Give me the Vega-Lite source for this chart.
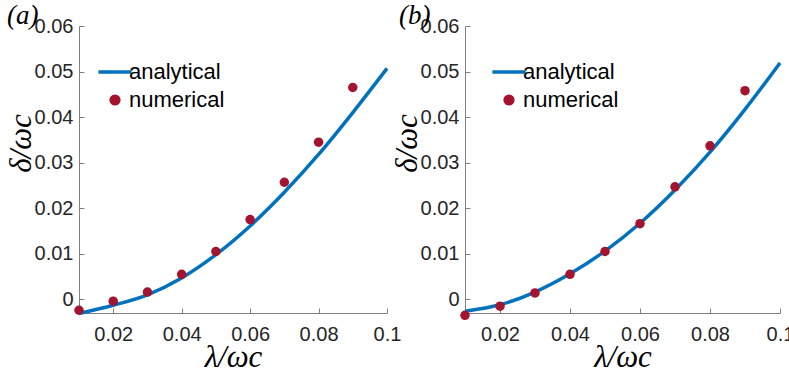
{
  "$schema": "https://vega.github.io/schema/vega-lite/v6.json",
  "padding": {"left": 5, "top": 2, "right": 0, "bottom": 0},
  "background": "white",
  "bounds": "flush",
  "spacing": 78,
  "config": {
    "view": {"stroke": null},
    "axis": {
      "labelFont": "Liberation Sans", "labelFontSize": 20, "labelColor": "#262626",
      "domainColor": "#808080", "tickColor": "#808080", "tickSize": -5, "grid": false,
      "titleFont": "Liberation Serif", "titleFontStyle": "italic", "titleFontWeight": "normal",
      "titleFontSize": 31, "titleColor": "#000000"
    },
    "title": {"font": "Liberation Serif", "fontStyle": "italic", "fontWeight": "normal", "fontSize": 27, "color": "#000000", "anchor": "start", "frame": "group"}
  },
  "datasets": {
    "curveA": [
      {"x": 0.01, "y": -0.0031}, {"x": 0.02, "y": -0.0013}, {"x": 0.03, "y": 0.0010},
      {"x": 0.04, "y": 0.0047}, {"x": 0.05, "y": 0.0098}, {"x": 0.06, "y": 0.0161},
      {"x": 0.07, "y": 0.0235}, {"x": 0.08, "y": 0.0318}, {"x": 0.09, "y": 0.0410},
      {"x": 0.1, "y": 0.0507}
    ],
    "ptsA": [
      {"x": 0.01, "y": -0.0024}, {"x": 0.02, "y": -0.0004}, {"x": 0.03, "y": 0.0016},
      {"x": 0.04, "y": 0.0055}, {"x": 0.05, "y": 0.0105}, {"x": 0.06, "y": 0.0175},
      {"x": 0.07, "y": 0.0257}, {"x": 0.08, "y": 0.0345}, {"x": 0.09, "y": 0.0465}
    ],
    "curveB": [
      {"x": 0.01, "y": -0.0026}, {"x": 0.02, "y": -0.0012}, {"x": 0.03, "y": 0.0016},
      {"x": 0.04, "y": 0.0056}, {"x": 0.05, "y": 0.0106}, {"x": 0.06, "y": 0.0167},
      {"x": 0.07, "y": 0.0240}, {"x": 0.08, "y": 0.0323}, {"x": 0.09, "y": 0.0417},
      {"x": 0.1, "y": 0.0519}
    ],
    "ptsB": [
      {"x": 0.01, "y": -0.0035}, {"x": 0.02, "y": -0.0015}, {"x": 0.03, "y": 0.0014},
      {"x": 0.04, "y": 0.0055}, {"x": 0.05, "y": 0.0105}, {"x": 0.06, "y": 0.0166},
      {"x": 0.07, "y": 0.0247}, {"x": 0.08, "y": 0.0337}, {"x": 0.09, "y": 0.0458}
    ]
  },
  "resolve": {"scale": {"color": "independent", "x": "independent", "y": "independent"}, "legend": {"color": "independent"}},
  "hconcat": [
    {
      "width": 308, "height": 287,
      "title": {"text": "(a)", "dx": -72, "dy": 14, "offset": 0},
      "layer": [
        {
          "data": {"name": "curveA"},
          "mark": {"type": "line", "strokeWidth": 3.5, "interpolate": "monotone"},
          "encoding": {
            "x": {"field": "x", "type": "quantitative", "scale": {"domain": [0.01, 0.1], "nice": false, "zero": false},
                  "axis": {"title": "λ/ωc", "values": [0.02, 0.04, 0.06, 0.08, 0.1], "format": "~g", "labelPadding": 16, "labelFlush": false, "labelOverlap": false, "titleY": 29, "titleBaseline": "top"}},
            "y": {"field": "y", "type": "quantitative", "scale": {"domain": [-0.003, 0.06], "nice": false, "zero": false},
                  "axis": {"title": "δ/ωc", "values": [0, 0.01, 0.02, 0.03, 0.04, 0.05, 0.06], "format": "~g", "labelPadding": 11, "titleX": -42, "titleY": 117}},
            "color": {"datum": "analytical", "type": "nominal",
              "scale": {"domain": ["analytical", "numerical"], "range": ["#0072BD", "#A2142F"]},
              "legend": {
                "orient": "none", "legendX": 25, "legendY": 35, "title": null,
                "labelFont": "Liberation Sans", "labelFontSize": 22, "labelColor": "#000000",
                "symbolSize": 1100, "symbolType": "stroke", "labelOffset": 3, "rowPadding": 6,
                "encode": {"symbols": {"update": {
                  "shape": {"signal": "datum.value === 'analytical' ? 'stroke' : 'circle'"},
                  "size": {"signal": "datum.value === 'analytical' ? 1100 : 60"},
                  "stroke": {"signal": "datum.value === 'analytical' ? '#0072BD' : 'transparent'"},
                  "fill": {"signal": "datum.value === 'analytical' ? 'transparent' : '#A2142F'"},
                  "strokeWidth": {"value": 3.5},
                  "opacity": {"value": 1}
                }}}
              }}
          }
        },
        {
          "data": {"name": "ptsA"},
          "mark": {"type": "point", "filled": true, "size": 90, "opacity": 1},
          "encoding": {
            "x": {"field": "x", "type": "quantitative"},
            "y": {"field": "y", "type": "quantitative"},
            "color": {"datum": "numerical", "type": "nominal"}
          }
        }
      ]
    },
    {
      "width": 315, "height": 287,
      "title": {"text": "(b)", "dx": -66, "dy": 14, "offset": 0},
      "layer": [
        {
          "data": {"name": "curveB"},
          "mark": {"type": "line", "strokeWidth": 3.5, "interpolate": "monotone"},
          "encoding": {
            "x": {"field": "x", "type": "quantitative", "scale": {"domain": [0.01, 0.1], "nice": false, "zero": false},
                  "axis": {"title": "λ/ωc", "values": [0.02, 0.04, 0.06, 0.08, 0.1], "format": "~g", "labelPadding": 16, "labelFlush": false, "labelOverlap": false, "titleY": 29, "titleBaseline": "top"}},
            "y": {"field": "y", "type": "quantitative", "scale": {"domain": [-0.003, 0.06], "nice": false, "zero": false},
                  "axis": {"title": "δ/ωc", "values": [0, 0.01, 0.02, 0.03, 0.04, 0.05, 0.06], "format": "~g", "labelPadding": 11, "titleX": -42, "titleY": 117}},
            "color": {"datum": "analytical", "type": "nominal",
              "scale": {"domain": ["analytical", "numerical"], "range": ["#0072BD", "#A2142F"]},
              "legend": {
                "orient": "none", "legendX": 33, "legendY": 35, "title": null,
                "labelFont": "Liberation Sans", "labelFontSize": 22, "labelColor": "#000000",
                "symbolSize": 1100, "symbolType": "stroke", "labelOffset": 3, "rowPadding": 6,
                "encode": {"symbols": {"update": {
                  "shape": {"signal": "datum.value === 'analytical' ? 'stroke' : 'circle'"},
                  "size": {"signal": "datum.value === 'analytical' ? 1100 : 60"},
                  "stroke": {"signal": "datum.value === 'analytical' ? '#0072BD' : 'transparent'"},
                  "fill": {"signal": "datum.value === 'analytical' ? 'transparent' : '#A2142F'"},
                  "strokeWidth": {"value": 3.5},
                  "opacity": {"value": 1}
                }}}
              }}
          }
        },
        {
          "data": {"name": "ptsB"},
          "mark": {"type": "point", "filled": true, "size": 90, "opacity": 1},
          "encoding": {
            "x": {"field": "x", "type": "quantitative"},
            "y": {"field": "y", "type": "quantitative"},
            "color": {"datum": "numerical", "type": "nominal"}
          }
        }
      ]
    }
  ]
}
